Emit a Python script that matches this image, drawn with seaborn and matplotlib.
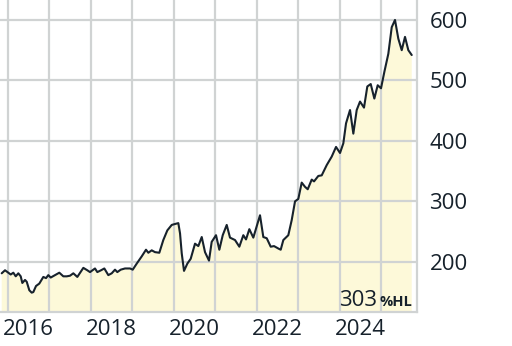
import matplotlib
matplotlib.use("Agg")
import matplotlib.pyplot as plt
import seaborn as sns
import pandas as pd
import numpy as np

# decimal-year time stamps and values
years = [
    2015.860, 2015.940, 2016.019, 2016.077, 2016.140, 2016.198, 2016.260, 2016.318,
    2016.357, 2016.422, 2016.463, 2016.525, 2016.583, 2016.622, 2016.687, 2016.766,
    2016.863, 2016.928, 2016.983, 2017.041, 2017.145, 2017.248, 2017.345, 2017.427,
    2017.506, 2017.586, 2017.682, 2017.827, 2017.923, 2017.988, 2018.108, 2018.164,
    2018.253, 2018.333, 2018.429, 2018.511, 2018.590, 2018.646, 2018.728, 2018.831,
    2018.952, 2019.017, 2019.113, 2019.234, 2019.337, 2019.393, 2019.475, 2019.554,
    2019.658, 2019.754, 2019.851, 2019.957, 2020.060, 2020.116, 2020.157, 2020.198,
    2020.253, 2020.333, 2020.414, 2020.518, 2020.598, 2020.680, 2020.759, 2020.855,
    2020.920, 2021.024, 2021.104, 2021.186, 2021.282, 2021.361, 2021.482, 2021.586,
    2021.682, 2021.747, 2021.827, 2021.923, 2022.084, 2022.164, 2022.246, 2022.342,
    2022.422, 2022.525, 2022.583, 2022.646, 2022.766, 2022.848, 2022.928, 2023.007,
    2023.089, 2023.169, 2023.234, 2023.330, 2023.386, 2023.489, 2023.571, 2023.692,
    2023.812, 2023.916, 2024.012, 2024.092, 2024.157, 2024.253, 2024.333, 2024.414,
    2024.494, 2024.590, 2024.670, 2024.752, 2024.839, 2024.920, 2025.000, 2025.080,
    2025.176, 2025.258, 2025.337, 2025.417, 2025.499, 2025.578, 2025.658, 2025.740,
]
values = [
    181, 186, 182, 179, 182, 176, 181, 176,
    165, 170, 167, 153, 149, 150, 160, 164,
    175, 173, 178, 174, 178, 182, 176, 176,
    177, 181, 175, 190, 186, 183, 189, 183,
    186, 189, 178, 181, 187, 183, 187, 189,
    189, 187, 197, 209, 220, 215, 219, 216,
    215, 236, 252, 261, 263, 264, 247, 214,
    185, 197, 205, 230, 226, 241, 216, 202,
    233, 244, 220, 244, 261, 240, 236, 225,
    244, 237, 254, 240, 277, 241, 239, 225,
    226, 222, 220, 236, 244, 269, 300, 304,
    331, 324, 320, 336, 333, 342, 343, 360,
    374, 390, 380, 396, 429, 451, 412, 451,
    465, 455, 490, 494, 470, 492, 487, 514,
    544, 588, 600, 569, 550, 572, 550, 542,
]
ytick_values = [200, 300, 400, 500, 600]
xtick_years = [2016, 2018, 2020, 2022, 2024]
grid_years = list(range(2016, 2026))
hl_value = "303"
hl_unit = "%HL"

df = pd.DataFrame({"year": years, "value": values})

sns.set_theme(style="white")
plt.rcParams["font.family"] = ["Open Sans", "DejaVu Sans"]

text_color = "#16212b"
grid_color = "#d0d3d3"
line_color = "#17222c"
fill_color = "#fdf9d9"

fig = plt.figure(figsize=(5.12, 3.46), dpi=100)
ax = fig.add_axes([0.0, 34 / 346, 417 / 512, 312 / 346])

ax.fill_between(df["year"], df["value"], 0, color=fill_color, lw=0, zorder=1)
sns.lineplot(data=df, x="year", y="value", ax=ax, color=line_color, lw=1.5, zorder=3)

ax.set_xlim(2015.819, 2025.867)
ax.set_ylim(117, 633)

ax.set_xticks(grid_years, minor=True)
ax.set_xticks([y + 0.5 for y in xtick_years])
ax.set_xticklabels([str(y) for y in xtick_years])
ax.set_yticks(ytick_values)
ax.grid(False)
ax.set_axisbelow(False)
ax.grid(True, which="minor", axis="x", color=grid_color, lw=1.6)
ax.grid(True, which="major", axis="y", color=grid_color, lw=1.6)

ax.yaxis.tick_right()
ax.tick_params(axis="both", which="both", length=0, labelsize=16, colors=text_color)
ax.tick_params(axis="y", pad=9)
ax.tick_params(axis="x", pad=5)

for s in ["left", "top"]:
    ax.spines[s].set_visible(False)
for s in ["right", "bottom"]:
    ax.spines[s].set_color(grid_color)
    ax.spines[s].set_linewidth(1.6)

ax.set_xlabel("")
ax.set_ylabel("")

ax.text(0.905, 0.018, hl_value, transform=ax.transAxes, ha="right", va="baseline",
        fontsize=16, color=text_color, zorder=5)
ax.text(0.911, 0.018, hl_unit, transform=ax.transAxes, ha="left", va="baseline",
        fontsize=10.5, fontweight="bold", color=text_color, zorder=5)

fig.savefig("out.png", dpi=100)
